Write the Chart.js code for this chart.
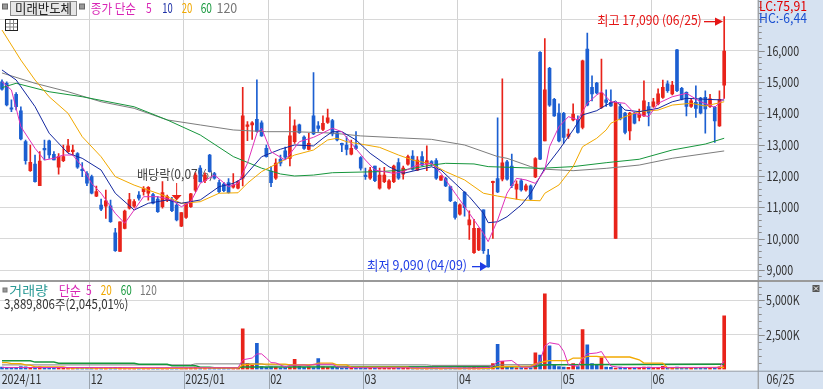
<!DOCTYPE html>
<html>
<head>
<meta charset="utf-8">
<title>미래반도체</title>
<script src="https://cdn.jsdelivr.net/npm/chart.js@4.4.1/dist/chart.umd.min.js"></script>
<style>
  html, body { margin: 0; padding: 0; background: #fff; }
  #wrap { position: relative; width: 823px; height: 389px; overflow: hidden; }
  canvas { position: absolute; left: 0; }
  #price { top: 0; }
  #volume { top: 281px; }
</style>
</head>
<body>
<div id="wrap">
  <canvas id="price" width="823" height="281"></canvas>
  <canvas id="volume" width="823" height="108"></canvas>
</div>
<script>
// 일봉 (2024/11/05 ~ 2025/06/25), index 0 = first visible day
var openP = [15010,14960,14180,14610,14080,13100,12170,12380,11690,12880,
  13120,12690,12280,12490,12780,12780,12720,12210,12080,11980,
  11360,11070,11040,11050,10190,9590,10330,10970,11040,11390,
  11500,11450,11410,11260,11020,11230,11230,11070,10400,10680,
  11020,11550,12250,11850,12670,12080,11790,11740,11790,11640,
  11610,11930,13580,13630,13810,13700,12880,12160,11930,12530,
  12800,12560,13100,13630,13240,12850,13920,13600,13490,13710,
  13770,13380,13040,12990,12700,12960,12590,12030,11930,12320,
  11610,11820,11610,11820,12430,12060,12380,12640,12190,12620,
  12380,12460,12490,11870,11930,11660,11160,10780,11480,10440,
  9550,9640,10920,9480,11790,11920,11900,12450,12320,11580,
  11850,11560,11690,11970,15950,13120,15440,14450,14010,14000,
  13260,13790,13800,13550,16050,14830,14970,14190,14430,14350,
  10010,14220,14010,13440,14010,13870,13920,14220,14220,14300,
  14510,14940,14620,16030,14800,14670,14220,14350,14490,14510,
  14220,14190,13600,14900];
var highP = [15070,15010,14430,14660,14210,13150,12990,12670,12780,13150,
  13150,12780,12720,12990,13170,12990,12750,12430,12140,12030,
  11680,11260,11550,11230,10330,10540,10910,11450,11250,11500,
  11660,11660,11450,11340,11820,11390,11320,11130,10830,11130,
  11450,12100,12330,12100,12690,12120,11870,11800,11920,12080,
  11850,14830,13740,13740,15070,13760,12990,12300,12550,12670,
  12920,14210,13790,13660,13280,13360,15300,13740,13920,14140,
  13810,13420,13050,13260,13150,13420,12620,12250,12280,12320,
  12250,12280,11890,12350,12560,12320,12670,12810,12620,12780,
  12960,12490,12560,12010,11960,11680,11180,11110,11500,10890,
  10620,10340,10920,9660,11840,13860,15100,12500,12700,11850,
  11900,11740,11720,12590,15970,16390,15470,14480,14300,14030,
  13500,14300,13920,15700,16560,15200,14990,15730,14750,14750,
  14350,14300,14030,14030,14030,14140,15040,14350,14480,14780,
  15060,15040,15020,16040,14830,14690,14480,14880,14510,14720,
  14610,14220,14720,17090];
var lowP = [14740,14240,14050,14110,13150,12380,12150,11800,11690,12510,
  12560,12510,12060,12460,12750,12670,12240,11980,11690,11430,
  11340,10890,10650,10520,9590,9590,10310,10940,11000,11230,
  11390,11230,11110,10840,10970,11180,10860,10570,10380,10650,
  11000,11500,11800,11790,12120,11900,11470,11500,11450,11610,
  11590,11680,13130,13170,13400,13260,12600,11660,11890,12320,
  12530,12320,13040,13360,12850,12830,13320,13420,13450,13680,
  13280,13120,12780,12670,12670,12850,12190,11890,11890,11820,
  11580,11790,11580,11790,11890,11900,12350,12190,12170,12330,
  12170,12320,11890,11860,11660,11180,10620,10750,10720,9980,
  9530,9620,9530,9090,10010,11470,11840,11870,11630,11260,
  11520,11520,11240,11950,12520,13120,14220,13900,13090,13050,
  13200,13760,13370,13500,14240,14400,14620,14160,14220,14220,
  10010,13790,13340,13150,13660,13760,13900,13600,14190,14270,
  14480,14670,14590,14690,14430,13920,14190,13870,13980,13370,
  14190,13070,13580,14480];
var closeP = [14770,14270,14130,14210,13180,12490,12440,11820,12480,12830,
  12670,12510,12620,12620,12960,12830,12280,12170,11770,11450,
  11500,10940,11210,10540,9620,10540,10880,11250,11180,11290,
  11600,11640,11130,10860,11470,11340,10890,10600,10830,11110,
  11430,12030,11820,12030,12140,11930,11500,11530,11470,11710,
  11820,13920,13630,13700,13420,13280,12620,11790,12410,12410,
  12600,13280,13600,13380,12880,13040,13340,13520,13680,13860,
  13340,13150,12990,12850,12880,12880,12250,11980,12190,11850,
  12030,12030,11850,12320,11930,12250,12620,12210,12510,12350,
  12490,12380,11930,12000,11680,11210,10680,11080,10990,10600,
  10330,10330,9620,9100,11830,11490,12420,11900,11690,11740,
  11560,11690,11260,12560,12540,14750,14260,13920,13120,13230,
  13340,13980,13390,15680,14260,14620,14650,14650,14350,14240,
  14350,13820,13390,14010,13690,13980,14400,14010,14370,14620,
  14830,14720,14900,14720,14450,14220,14400,14160,14010,14140,
  14460,13760,14450,15990];
// 거래량 (천주)
var volK = [180,160,120,150,210,190,150,170,200,140,130,110,120,100,130,110,120,100,130,
  120,90,100,110,130,160,140,110,90,80,90,100,80,90,110,80,100,90,110,120,
  100,130,170,150,110,130,120,90,100,110,120,140,
  2950,450,300,1900,220,160,200,170,130,140,150,740,230,160,180,140,790,200,150,170,
  150,110,130,120,100,110,130,90,120,110,100,90,110,120,100,90,110,100,90,110,120,100,90,80,100,90,110,120,130,150,140,160,200,
  420,1830,590,170,150,130,120,110,130,
  1210,1040,5490,1710,370,220,180,150,420,220,2900,1780,420,300,840,170,160,110,
  170,150,140,130,150,180,170,140,160,230,150,160,180,140,130,150,140,130,120,110,120,190,3890];

// 이동평균 (day index, value)
var ma5 = [[0,15010],[2,14745],[3,14160],[4,13575],[7,12885],[9,12510],[11,12565],[13,12670],[15,12670],[17,12295],[19,11765],[21,11450],[24,10810],[26,10490],[28,10915],[30,11340],[33,11340],[36,11235],[38,11020],[40,11180],[42,11765],[45,12030],[48,11660],[50,11765],[52,12405],[54,13365],[55,13525],[57,12775],[60,12510],[63,13095],[66,13235],[70,13525],[72,13415],[74,13045],[77,12510],[79,12190],[83,12085],[85,12140],[88,12350],[91,12405],[93,12085],[96,11450],[99,10810],[102,10170],[103,9905],[105,10595],[107,11450],[109,11925],[111,11875],[113,11765],[115,12190],[116,12935],[118,13575],[120,13895],[122,13790],[124,14320],[126,14585],[127,14690],[129,14370],[132,14320],[134,14000],[137,13895],[139,14320],[142,14530],[145,14640],[148,14370],[151,14195],[153,14480]];
var ma10 = [[0,15385],[3,15065],[7,14215],[10,13365],[14,12725],[17,12565],[21,12190],[24,11450],[28,10915],[31,11130],[35,11235],[38,11130],[42,11235],[46,11660],[49,11765],[51,11925],[55,12615],[59,12855],[62,12990],[66,12960],[68,13205],[70,13415],[72,13415],[75,13150],[78,12725],[82,12295],[85,12085],[88,12190],[91,12295],[93,12190],[96,11765],[99,11340],[102,10810],[103,10510],[105,10540],[107,10700],[110,11075],[112,11450],[115,12245],[118,12830],[121,13470],[123,13950],[126,14085],[128,14265],[130,14395],[132,14105],[135,14055],[139,14160],[142,14370],[145,14480],[149,14450],[153,14425]];
var ma20 = [[0,16660],[4,15700],[7,15065],[10,14530],[14,14000],[17,13255],[21,12615],[24,11980],[28,11710],[31,11550],[35,11340],[38,11130],[42,11180],[46,11450],[50,11465],[52,11770],[55,12140],[59,12455],[62,12670],[66,12830],[69,13150],[71,13205],[73,13095],[76,13020],[80,12915],[84,12670],[87,12510],[91,12385],[94,12140],[98,11875],[102,11450],[105,11360],[110,11235],[114,11210],[115,11450],[118,11715],[121,12300],[123,12935],[126,13205],[128,13470],[129,13685],[132,13895],[135,14055],[139,14105],[142,14265],[146,14320],[149,14235],[153,14370]];
var ma60 = [[0,14820],[3,14960],[10,14690],[17,14530],[28,14210],[35,13790],[42,13310],[49,12620],[55,12250],[59,12065],[62,12000],[66,12030],[70,12105],[80,12140],[85,12190],[91,12350],[94,12405],[100,12385],[103,12300],[114,12245],[121,12300],[128,12425],[135,12535],[142,12830],[149,13020],[153,13205]];
var ma120 = [[0,15290],[7,14960],[14,14690],[21,14370],[28,14160],[35,13790],[42,13630],[49,13470],[56,13415],[62,13415],[70,13370],[76,13280],[84,13220],[91,13170],[98,12990],[105,12620],[107,12565],[112,12300],[114,12225],[121,12170],[128,12245],[135,12350],[142,12565],[153,12800]];

var vma5 = [[0,150],[50,120],[51,700],[53,830],[54,1130],[55,1130],[56,830],[57,500],[58,480],[60,180],[61,300],[64,330],[65,290],[66,380],[70,380],[71,200],[75,130],[100,110],[103,150],[104,250],[105,580],[108,650],[109,400],[110,170],[112,170],[113,320],[114,600],[115,1700],[116,1940],[118,1820],[119,1320],[120,340],[122,230],[123,800],[124,1130],[126,1200],[127,1300],[128,760],[129,250],[131,150],[152,150],[153,630]];
var vma20 = [[0,500],[1,500],[2,420],[4,420],[5,330],[6,320],[7,185],[13,185],[14,110],[38,90],[39,110],[50,110],[51,330],[53,385],[60,385],[61,330],[66,330],[67,460],[70,460],[71,330],[73,330],[74,170],[86,170],[87,60],[103,60],[104,110],[105,200],[112,240],[113,400],[115,580],[116,650],[120,650],[121,830],[123,830],[124,950],[126,950],[127,905],[133,905],[135,700],[136,460],[140,460],[141,120],[153,150]];
var vma60 = [[0,630],[6,630],[7,535],[11,535],[12,460],[28,460],[29,385],[35,385],[36,280],[41,280],[42,160],[44,160],[45,130],[50,130],[51,180],[104,200],[113,210],[114,300],[116,350],[153,385]];
var vma120 = [[0,334],[40,334],[41,408],[55,408],[56,334],[90,334],[91,300],[104,300],[105,340],[153,400]];

var monthLabels = ['2024/11', '12', '2025/01', '02', '03', '04', '05', '06'];
var monthStart = [0, 19, 39, 57, 77, 97, 119, 138];
var priceTicks = [9000, 10000, 11000, 12000, 13000, 14000, 15000, 16000];
var priceGrid = priceTicks.concat([17000]);
var volTicks = [2500, 5000];
var lastDate = '06/25';
var divLabel = '배당락(0,07%)';
var divIndex = 37;

var FONT = '"Noto Sans CJK KR", "Noto Sans", sans-serif';
var PANEL = '#d6e2f1';
var AXIS_X = 757.7;
var UP = '#e8231a', DOWN = '#1c5fd1';

function candleColor(i) { return closeP[i] >= openP[i] ? UP : DOWN; }
function pts(a) { return a.map(function (p) { return {x: p[0], y: p[1]}; }); }
var idx = closeP.map(function (v, i) { return i; });
var colors = idx.map(candleColor);

function fitTxt(ctx, s, x0, x1, y, color, size) {
  ctx.save();
  ctx.font = size + 'px ' + FONT;
  var w = ctx.measureText(s).width;
  ctx.translate(x0, y);
  ctx.scale((x1 - x0) / w, 1);
  ctx.fillStyle = color;
  ctx.textBaseline = 'middle';
  ctx.textAlign = 'left';
  ctx.fillText(s, 0, 0);
  ctx.restore();
}
function txtS(ctx, s, x0, y, color, size, sx) {
  ctx.save();
  ctx.font = size + 'px ' + FONT;
  ctx.translate(x0, y);
  ctx.scale(sx, 1);
  ctx.fillStyle = color;
  ctx.textBaseline = 'middle';
  ctx.textAlign = 'left';
  ctx.fillText(s, 0, 0);
  ctx.restore();
}

function xScaleOpts(h) {
  return {
    type: 'linear', min: -0.42, max: 160.1, offset: false,
    grid: {color: '#d2d2d2', drawTicks: false, offset: false},
    border: {display: false},
    ticks: {display: false},
    afterBuildTicks: function (s) { s.ticks = monthStart.slice(1).map(function (m) { return {value: m - 0.5}; }); },
    afterFit: function (s) { s.height = h; }
  };
}
function lineDs(data, color, w, yid) {
  return {type: 'line', data: pts(data), borderColor: color, borderWidth: w, pointRadius: 0,
    tension: 0, fill: false, order: 0, yAxisID: yid};
}

// ---------- 가격 ----------
var pricePlugin = {
  id: 'pricePane',
  beforeDraw: function (c) {
    var ctx = c.ctx;
    ctx.save();
    ctx.fillStyle = '#fff'; ctx.fillRect(0, 0, 823, 281);
    ctx.fillStyle = PANEL; ctx.fillRect(AXIS_X, 0, 823 - AXIS_X, 281);
    ctx.restore();
  },
  beforeDatasetsDraw: function (c) {
    fitTxt(c.ctx, divLabel, 137, 213, 174, '#444', 13);
  },
  afterDraw: function (c) {
    var ctx = c.ctx, ys = c.scales.y, xs = c.scales.x;
    ctx.save();
    // 배당락 표시
    var dx = xs.getPixelForValue(divIndex);
    ctx.fillStyle = UP;
    ctx.fillRect(dx - 0.5, 183, 1, 12);
    ctx.beginPath(); ctx.moveTo(dx - 5, 195); ctx.lineTo(dx + 5, 195); ctx.lineTo(dx, 200.5); ctx.closePath(); ctx.fill();

    // 오른쪽 축
    ctx.fillStyle = '#8c8c8c';
    ctx.fillRect(AXIS_X, 0, 1, 281);
    for (var v = 8800; v <= 17600; v += 200) {
      var py = Math.round(ys.getPixelForValue(v));
      if (py < 1 || py > 279) continue;
      ctx.fillRect(AXIS_X + 1, py, v % 1000 === 0 ? 6 : 3, 1);
    }
    priceTicks.forEach(function (t) {
      txtS(ctx, t.toLocaleString('en-US'), 766.5, ys.getPixelForValue(t), '#333', 13, 0.82);
    });
    fitTxt(ctx, 'LC:75,91', 759, 807, 6.5, '#e00000', 13);
    fitTxt(ctx, 'HC:-6,44', 759, 807, 18.5, '#1a4fd0', 13);

    // 범례
    ctx.fillStyle = '#999'; ctx.fillRect(2.5, 4, 5, 5);
    ctx.strokeStyle = '#666'; ctx.lineWidth = 1; ctx.strokeRect(2.5, 4, 5, 5);
    ctx.fillStyle = '#e6e6e6'; ctx.fillRect(10.5, 1.5, 66, 14);
    ctx.strokeStyle = '#8a8a8a'; ctx.strokeRect(10.5, 1.5, 66, 14);
    fitTxt(ctx, '미래반도체', 15, 72, 8.5, '#222', 13);
    ctx.fillStyle = '#999'; ctx.fillRect(79.5, 4, 5, 5);
    ctx.strokeStyle = '#666'; ctx.strokeRect(79.5, 4, 5, 5);
    fitTxt(ctx, '종가 단순', 90.7, 136, 8, '#d825b5', 13);
    fitTxt(ctx, '5', 146, 151.7, 8, '#d825b5', 13);
    fitTxt(ctx, '10', 162.3, 172.7, 8, '#1c2fa6', 13);
    fitTxt(ctx, '20', 181.7, 192.3, 8, '#f0a800', 13);
    fitTxt(ctx, '60', 200.7, 212, 8, '#1a9a40', 13);
    fitTxt(ctx, '120', 216.5, 237.3, 8, '#777', 13);
    // 표 아이콘
    ctx.strokeStyle = '#222'; ctx.strokeRect(5.5, 19.5, 12, 11);
    ctx.fillStyle = '#888';
    ctx.fillRect(6, 23, 11, 1); ctx.fillRect(6, 26.5, 11, 1);
    ctx.fillRect(9.5, 20, 1, 10); ctx.fillRect(13, 20, 1, 10);

    // 최고 / 최저
    fitTxt(ctx, '최고 17,090 (06/25)', 597.3, 701.7, 20, '#e51515', 13);
    ctx.fillStyle = '#e51515';
    ctx.fillRect(704, 21, 12, 1.3);
    ctx.beginPath(); ctx.moveTo(715, 17.5); ctx.lineTo(723, 21.6); ctx.lineTo(715, 25.7); ctx.closePath(); ctx.fill();
    fitTxt(ctx, '최저 9,090 (04/09)', 367, 467, 265.5, '#1e3ce6', 13);
    ctx.fillStyle = '#1e3ce6';
    ctx.fillRect(472, 266, 9, 1.3);
    ctx.beginPath(); ctx.moveTo(480, 262); ctx.lineTo(487.5, 266.6); ctx.lineTo(480, 271); ctx.closePath(); ctx.fill();

    // 구분선
    ctx.fillStyle = '#9a9a9a'; ctx.fillRect(0, 280, 823, 1);
    ctx.restore();
  }
};

new Chart(document.getElementById('price'), {
  type: 'bar',
  data: {
    datasets: [
      lineDs(ma5, '#e030b8', 1, 'y'),
      lineDs(ma10, '#1428a0', 1, 'y'),
      lineDs(ma20, '#f2a900', 1, 'y'),
      lineDs(ma60, '#16963c', 1, 'y'),
      lineDs(ma120, '#7d7d7d', 1, 'y'),
      {data: idx.map(function (i) { return {x: i, y: [openP[i], closeP[i]]}; }),
        backgroundColor: colors, barThickness: 3, minBarLength: 1, grouped: false, order: 5},
      {data: idx.map(function (i) { return {x: i, y: [lowP[i], highP[i]]}; }),
        backgroundColor: colors, barThickness: 1, grouped: false, order: 6}
    ]
  },
  options: {
    responsive: false, animation: false, events: [],
    layout: {padding: 0},
    plugins: {legend: {display: false}, tooltip: {enabled: false}},
    scales: {
      x: xScaleOpts(0),
      y: {
        position: 'right', min: 8649, max: 17618,
        grid: {color: '#d8d8d8', drawTicks: false},
        border: {display: false},
        ticks: {display: false},
        afterBuildTicks: function (s) { s.ticks = priceGrid.map(function (v) { return {value: v}; }); },
        afterFit: function (s) { s.width = 823 - AXIS_X; }
      }
    }
  },
  plugins: [pricePlugin]
});

// ---------- 거래량 ----------
var volPlugin = {
  id: 'volPane',
  beforeDraw: function (c) {
    var ctx = c.ctx;
    ctx.save();
    ctx.fillStyle = '#fff'; ctx.fillRect(0, 0, 823, 108);
    ctx.fillStyle = PANEL; ctx.fillRect(AXIS_X, 0, 823 - AXIS_X, 108);
    ctx.restore();
  },
  afterDraw: function (c) {
    var ctx = c.ctx, ys = c.scales.y, xs = c.scales.x;
    ctx.save();
    ctx.fillStyle = '#9a9a9a'; ctx.fillRect(0, 0, 823, 1);
    // 축
    ctx.fillStyle = '#8c8c8c';
    ctx.fillRect(AXIS_X, 0, 1, 91);
    for (var v = 500; v <= 6000; v += 500) {
      var py = Math.round(ys.getPixelForValue(v));
      ctx.fillRect(AXIS_X + 1, py, v % 2500 === 0 ? 6 : 3, 1);
    }
    volTicks.forEach(function (t) {
      txtS(ctx, t.toLocaleString('en-US') + 'K', 766, ys.getPixelForValue(t), '#333', 13, 0.82);
    });
    // 닫기 버튼
    ctx.fillStyle = '#555'; ctx.fillRect(812.5, 4, 7, 7);
    ctx.strokeStyle = '#fff'; ctx.lineWidth = 1;
    ctx.beginPath(); ctx.moveTo(814, 5.5); ctx.lineTo(818, 9.5); ctx.moveTo(818, 5.5); ctx.lineTo(814, 9.5); ctx.stroke();

    // 날짜 축
    ctx.fillStyle = PANEL; ctx.fillRect(0, 90.7, 823, 17.3);
    ctx.fillStyle = '#8d97a3'; ctx.fillRect(0, 89.7, 823, 1);
    ctx.fillStyle = '#9aa3ad';
    monthStart.forEach(function (m, k) {
      var gx = xs.getPixelForValue(m - 0.5);
      if (k > 0) ctx.fillRect(Math.round(gx), 90.7, 1, 17.3);
      txtS(ctx, monthLabels[k], k === 0 ? 1.7 : gx + 1.5, 98, '#333', 13, 0.82);
    });
    ctx.fillStyle = '#8c8c8c'; ctx.fillRect(AXIS_X, 90.7, 1, 17.3);
    txtS(ctx, lastDate, 766.5, 98, '#333', 13, 0.82);

    // 범례
    ctx.fillStyle = '#999'; ctx.fillRect(3, 7, 4, 4);
    ctx.strokeStyle = '#777'; ctx.strokeRect(3, 7, 4, 4);
    fitTxt(ctx, '거래량', 9.3, 48, 9.5, '#2a9a96', 13);
    fitTxt(ctx, '단순', 58.7, 81, 9.5, '#d825b5', 13);
    fitTxt(ctx, '5', 86, 91.7, 9.5, '#d825b5', 13);
    fitTxt(ctx, '20', 100.7, 111.7, 9.5, '#f0a800', 13);
    fitTxt(ctx, '60', 120.7, 131.7, 9.5, '#1a9a40', 13);
    fitTxt(ctx, '120', 140, 156.7, 9.5, '#777', 13);
    fitTxt(ctx, '3,889,806주(2,045,01%)', 4, 128.3, 23, '#333', 13);
    ctx.restore();
  }
};

new Chart(document.getElementById('volume'), {
  type: 'bar',
  data: {
    datasets: [
      lineDs(vma5, '#e030b8', 1, 'y'),
      lineDs(vma20, '#f2a900', 1.3, 'y'),
      lineDs(vma60, '#16963c', 1.5, 'y'),
      lineDs(vma120, '#7d7d7d', 1, 'y'),
      {data: idx.map(function (i) { return {x: i, y: volK[i]}; }),
        backgroundColor: colors, barThickness: 3, minBarLength: 1, grouped: false, order: 5}
    ]
  },
  options: {
    responsive: false, animation: false, events: [],
    layout: {padding: 0},
    plugins: {legend: {display: false}, tooltip: {enabled: false}},
    scales: {
      x: xScaleOpts(19.5),
      y: {
        position: 'right', min: 0, max: 6413,
        grid: {color: '#d8d8d8', drawTicks: false},
        border: {display: false},
        ticks: {display: false},
        afterBuildTicks: function (s) { s.ticks = volTicks.map(function (v) { return {value: v}; }); },
        afterFit: function (s) { s.width = 823 - AXIS_X; }
      }
    }
  },
  plugins: [volPlugin]
});
</script>
</body>
</html>
